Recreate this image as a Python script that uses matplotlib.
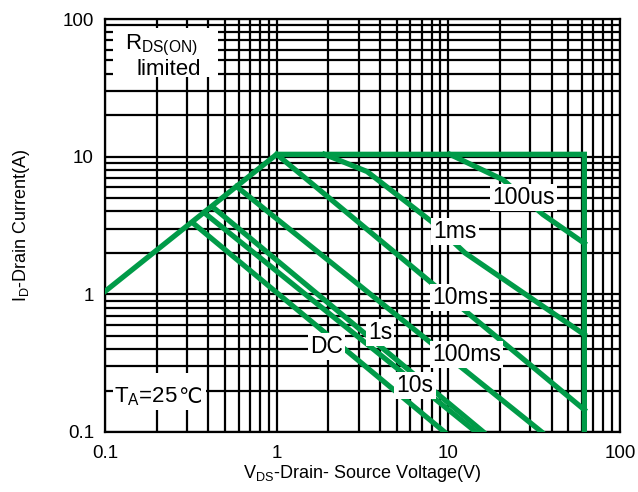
import matplotlib.pyplot as plt
from matplotlib.patches import Rectangle
from matplotlib.ticker import FixedLocator, FixedFormatter, LogLocator, NullFormatter

plt.rcParams['font.family'] = ['Liberation Sans', 'DejaVu Sans']
plt.rcParams['mathtext.fontset'] = 'custom'
plt.rcParams['mathtext.rm'] = 'Liberation Sans'
plt.rcParams['mathtext.it'] = 'Liberation Sans:italic'
plt.rcParams['mathtext.bf'] = 'Liberation Sans:bold'

# safe operating area boundary: Rds(on) limit -> current limit -> voltage limit
limit_v = [0.1, 1.0, 62, 62]
limit_i = [1.05, 10.4, 10.4, 0.1]

# pulse curves, (V, I)
v_100us = [10.2, 20.8, 35.6, 62]
i_100us = [10.4, 6.8, 3.8, 2.35]
v_1ms = [1.9, 3.36, 8.0, 12.5, 62]
i_1ms = [10.4, 7.8, 3.37, 2.0, 0.51]
v_10ms = [1.0, 62]
i_10ms = [10.4, 0.145]
v_100ms = [0.584, 35]
i_100ms = [6.07, 0.1]
v_1s = [0.425, 16]
i_1s = [4.3, 0.1]
v_10s = [0.38, 14.5]
i_10s = [3.9, 0.1]
v_dc = [0.325, 9.5]
i_dc = [3.3, 0.1]

curves = [(v_100us, i_100us), (v_1ms, i_1ms), (v_10ms, i_10ms), (v_100ms, i_100ms),
          (v_1s, i_1s), (v_10s, i_10s), (v_dc, i_dc)]

# where the curve names sit
label_names = ['100us', '1ms', '10ms', '100ms', '1s', '10s', 'DC']
label_v = [27.5, 10.9, 11.7, 12.8, 4.0, 6.4, 1.94]
label_i = [5.04, 2.85, 0.95, 0.365, 0.53, 0.217, 0.42]

tick_vals = [0.1, 1, 10, 100]
tick_text = ['0.1', '1', '10', '100']

green = '#009B48'

fig = plt.figure(figsize=(6.38, 4.92), dpi=100)
ax = fig.add_axes([105 / 638, 1 - 432 / 492, 515 / 638, 413 / 492])
ax.set_xscale('log')
ax.set_yscale('log')
ax.set_xlim(0.1, 100)
ax.set_ylim(0.1, 100)

ax.set_axisbelow(True)
ax.grid(True, which='both', color='black', lw=1.6)
for axis in (ax.xaxis, ax.yaxis):
    axis.set_major_locator(FixedLocator(tick_vals))
    axis.set_major_formatter(FixedFormatter(tick_text))
    axis.set_minor_locator(LogLocator(base=10, subs=range(2, 10)))
    axis.set_minor_formatter(NullFormatter())
ax.tick_params(which='both', length=0, labelsize=13.5)
ax.tick_params(axis='x', pad=9)
ax.tick_params(axis='y', pad=8)
for s in ax.spines.values():
    s.set_linewidth(1.6)

ax.plot(limit_v, limit_i, color=green, lw=3.8, solid_joinstyle='miter', zorder=3)
for v, i in curves:
    ax.plot(v, i, color=green, lw=3.8, zorder=3)

box = dict(facecolor='white', edgecolor='none', pad=1.5)
for name, x, y in zip(label_names, label_v, label_i):
    ax.text(x, y, name, fontsize=16.5, ha='center', va='center', bbox=box, zorder=5)

# white patches behind the two notes
ax.add_patch(Rectangle((0.0155, 0.8596), 0.204, 0.1186, transform=ax.transAxes,
                       facecolor='white', edgecolor='none', zorder=4))
ax.add_patch(Rectangle((0.0155, 0.053), 0.18, 0.09, transform=ax.transAxes,
                       facecolor='white', edgecolor='none', zorder=4))

ax.text(0.1308, 59.8, 'R$_{\\mathrm{DS(ON)}}$', fontsize=16, ha='left', va='baseline', zorder=5)
ax.text(0.1536, 39.4, 'limited', fontsize=16, ha='left', va='baseline', zorder=5)

ax.text(0.265, 0.1636, 'T$_{\\mathrm{A}}$=25', fontsize=16, ha='right', va='baseline', zorder=5)
ax.text(0.265, 0.1636, '\u2103', fontsize=15, family='DejaVu Sans', ha='left', va='baseline',
        zorder=5)

ax.set_xlabel('V$_{\\mathrm{DS}}$-Drain- Source Voltage(V)', fontsize=13, labelpad=1)
ax.set_ylabel('I$_{\\mathrm{D}}$-Drain Current(A)', fontsize=13, labelpad=22)

fig.savefig('out.png', dpi=100)
